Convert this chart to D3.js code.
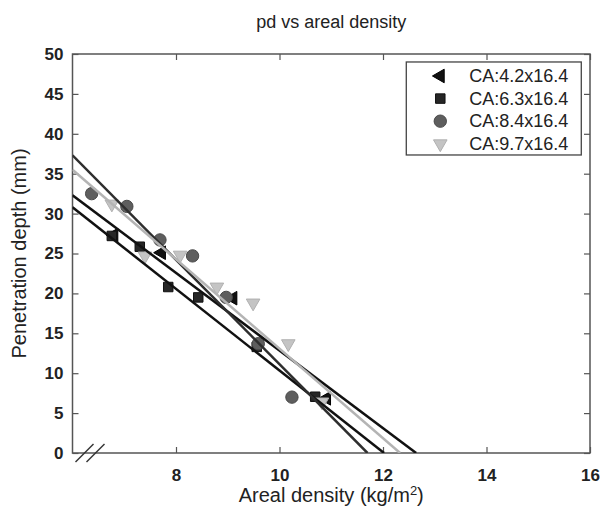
<!DOCTYPE html>
<html>
<head>
<meta charset="utf-8">
<script src="https://cdn.jsdelivr.net/npm/d3@7"></script>
<style>
  body { margin: 0; background: #fff; }
  svg { font-family: "Liberation Sans", Arial, sans-serif; }
  .tick text { font-size: 17px; font-weight: bold; fill: #222; }
</style>
</head>
<body>
<svg id="chart" width="602" height="508"></svg>
<script>
// series
const seriesNames = ['CA:4.2x16.4', 'CA:6.3x16.4', 'CA:8.4x16.4', 'CA:9.7x16.4'];

const tri42X = [6.8, 7.72, 9.10, 10.91];
const tri42Y = [27.3, 25.1, 19.4, 6.85];

const sq63X = [6.76, 7.30, 7.85, 8.43, 9.56, 10.69];
const sq63Y = [27.2, 25.85, 20.8, 19.5, 13.3, 7.05];

const circ84X = [6.37, 7.05, 7.69, 8.32, 8.97, 9.59, 10.24];
const circ84Y = [32.5, 30.9, 26.7, 24.7, 19.5, 13.7, 7.0];

const dtri97X = [6.76, 7.40, 8.08, 8.79, 9.49, 10.17, 10.82];
const dtri97Y = [31.2, 24.7, 24.8, 20.8, 18.8, 13.7, 6.4];

// fitted lines: value at x = 6 and the x where depth reaches 0
const fitAtSix = [32.3, 30.8, 37.3, 35.5];
const fitZeroX = [12.64, 12.02, 11.70, 12.33];

const xTicks = [8, 10, 12, 14, 16];
const yTicks = [0, 5, 10, 15, 20, 25, 30, 35, 40, 45, 50];

const margin = { top: 54, right: 12, bottom: 55, left: 72.5 };
const width = 602, height = 508;
const innerW = width - margin.left - margin.right;
const innerH = height - margin.top - margin.bottom;

const svg = d3.select('svg#chart');
const g = svg.append('g')
    .attr('transform', `translate(${margin.left},${margin.top})`);

const xScale = d3.scaleLinear().domain([6, 16]).range([0, innerW]);
const yScale = d3.scaleLinear().domain([0, 50]).range([innerH, 0]);

const fills = ['#111', '#262626', '#5e5e5e', '#c4c4c4'];
const strokes = ['#000', '#111', '#4a4a4a', '#b0b0b0'];
const lineColors = ['#111', '#111', '#2e2e2e', '#b4b4b4'];
const rotations = [-90, 0, 0, 180];
const symbols = [d3.symbolTriangle, d3.symbolSquare, d3.symbolCircle, d3.symbolTriangle];
const sizes = [80, 90, 120, 80];

const seriesX = [tri42X, sq63X, circ84X, dtri97X];
const seriesY = [tri42Y, sq63Y, circ84Y, dtri97Y];

// axes, ticks pointing inward on all sides
const axisStyle = sel => {
    sel.select('.domain').remove();
    sel.selectAll('.tick line').attr('stroke', '#555').attr('stroke-width', 1.2);
};

g.append('g')
    .attr('transform', `translate(0,${innerH})`)
    .call(d3.axisBottom(xScale).tickValues(xTicks).tickSizeInner(-6).tickSizeOuter(0).tickPadding(16))
    .call(axisStyle);

g.append('g')
    .call(d3.axisTop(xScale).tickValues(xTicks).tickSizeInner(-6).tickSizeOuter(0).tickFormat(''))
    .call(axisStyle);

g.append('g')
    .call(d3.axisLeft(yScale).tickValues(yTicks).tickSizeInner(-6).tickSizeOuter(0).tickPadding(9))
    .call(axisStyle);

g.append('g')
    .attr('transform', `translate(${innerW},0)`)
    .call(d3.axisRight(yScale).tickValues(yTicks).tickSizeInner(-6).tickSizeOuter(0).tickFormat(''))
    .call(axisStyle);

g.append('rect')
    .attr('width', innerW)
    .attr('height', innerH)
    .attr('fill', 'none')
    .attr('stroke', '#555')
    .attr('stroke-width', 1.5);

// axis break marks
[0, 11].forEach(off => {
    g.append('line')
        .attr('x1', 3 + off).attr('y1', innerH + 9)
        .attr('x2', 21 + off).attr('y2', innerH - 9)
        .attr('stroke', '#333').attr('stroke-width', 1.5);
});

g.append('defs').append('clipPath').attr('id', 'plotClip')
    .append('rect').attr('width', innerW).attr('height', innerH);

const plot = g.append('g').attr('clip-path', 'url(#plotClip)');

// markers
seriesNames.forEach((name, i) => {
    plot.append('g')
        .selectAll('path')
        .data(seriesX[i].map((x, j) => [x, seriesY[i][j]]))
        .enter()
        .append('path')
        .attr('d', d3.symbol().type(symbols[i]).size(sizes[i]))
        .attr('transform', d => `translate(${xScale(d[0])},${yScale(d[1])}) rotate(${rotations[i]})`)
        .attr('fill', fills[i])
        .attr('stroke', strokes[i])
        .attr('stroke-width', 1);
});

// fit lines on top
const line = d3.line().x(d => xScale(d[0])).y(d => yScale(d[1]));
seriesNames.forEach((name, i) => {
    plot.append('path')
        .attr('d', line([[6, fitAtSix[i]], [fitZeroX[i], 0]]))
        .attr('fill', 'none')
        .attr('stroke', lineColors[i])
        .attr('stroke-width', 2.5);
});

// legend
const legend = g.append('g').attr('transform', `translate(${xScale(12.45)},${yScale(49)})`);
legend.append('rect')
    .attr('width', 175)
    .attr('height', 93)
    .attr('fill', '#fff')
    .attr('stroke', '#444')
    .attr('stroke-width', 1.3);

seriesNames.forEach((name, i) => {
    const row = legend.append('g').attr('transform', `translate(0,${14 + i * 22.6})`);
    row.append('path')
        .attr('d', d3.symbol().type(symbols[i]).size(sizes[i]))
        .attr('transform', `translate(34,0) rotate(${rotations[i]})`)
        .attr('fill', fills[i])
        .attr('stroke', strokes[i]);
    row.append('text')
        .attr('x', 63)
        .attr('y', 6)
        .style('font-size', '18px')
        .style('fill', '#222')
        .text(name);
});

// titles
svg.append('text')
    .attr('x', margin.left + innerW / 2)
    .attr('y', 28)
    .attr('text-anchor', 'middle')
    .style('font-size', '18px')
    .style('fill', '#222')
    .text('pd vs areal density');

const xLabel = svg.append('text')
    .attr('x', margin.left + innerW / 2)
    .attr('y', 502)
    .attr('text-anchor', 'middle')
    .style('font-size', '20px')
    .style('fill', '#222');
xLabel.append('tspan').text('Areal density (kg/m');
xLabel.append('tspan').attr('baseline-shift', 'super').style('font-size', '13px').text('2');
xLabel.append('tspan').text(')');

svg.append('text')
    .attr('transform', `translate(26,${margin.top + innerH / 2}) rotate(-90)`)
    .attr('text-anchor', 'middle')
    .style('font-size', '20px')
    .style('fill', '#222')
    .text('Penetration depth (mm)');
</script>
</body>
</html>
